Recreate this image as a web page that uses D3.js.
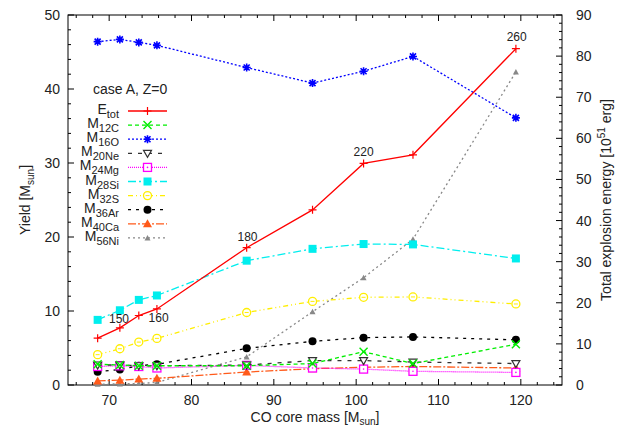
<!DOCTYPE html>
<html>
<head>
<meta charset="utf-8">
<script src="https://cdn.jsdelivr.net/npm/d3@7"></script>
<style>
  body { margin: 0; background: #fff; }
  svg text { font-family: "Liberation Sans", Arial, sans-serif; fill: #222; }
</style>
</head>
<body>
<div id="chart"></div>
<script>
// CO core mass for each model
var coMass = [68.6, 71.3, 73.6, 75.8, 86.7, 94.7, 100.9, 106.9, 119.4];

// total explosion energy [1e51 erg] (right axis)
var eTot = [11.4, 13.9, 16.9, 18.5, 33.4, 42.6, 53.9, 56.0, 81.8];

// yields [Msun] (left axis)
var m12C  = [2.8, 2.7, 2.6, 2.6, 2.6, 2.9, 4.5, 2.9, 5.5];
var m16O  = [46.4, 46.7, 46.3, 45.9, 42.9, 40.8, 42.4, 44.4, 36.1];
var m20Ne = [2.7, 2.7, 2.6, 2.6, 2.7, 3.3, 3.3, 3.1, 2.9];
var m24Mg = [2.5, 2.6, 2.5, 2.3, 2.65, 2.3, 2.15, 1.85, 1.7];
var m28Si = [8.8, 10.1, 11.5, 12.1, 16.8, 18.4, 19.05, 19.0, 17.1];
var m32S  = [4.1, 4.9, 5.8, 6.3, 9.8, 11.3, 11.85, 11.9, 10.95];
var m36Ar = [1.8, 2.1, 2.6, 2.8, 4.95, 5.9, 6.4, 6.5, 6.1];
var m40Ca = [0.55, 0.65, 0.8, 0.9, 1.75, 2.2, 2.4, 2.5, 2.3];
var m56Ni = [0.1, 0.15, 0.2, 0.35, 3.8, 9.9, 14.5, 19.7, 42.3];

// progenitor mass labels next to E_tot curve (x, y on right axis)
var massLabels = ["150", "160", "180", "220", "260"];
var massLabelX = [71.2, 76.0, 86.8, 100.9, 119.5];
var massLabelY = [16.0, 16.2, 35.9, 56.6, 84.7];

var xTicks = [70, 80, 90, 100, 110, 120];
var yTicks = [0, 10, 20, 30, 40, 50];
var y2Ticks = [0, 10, 20, 30, 40, 50, 60, 70, 80, 90];

var width = 621, height = 427;
var margin = { left: 68, right: 59, top: 15, bottom: 42 };

var svg = d3.select("#chart").append("svg")
  .attr("width", width)
  .attr("height", height);

var x = d3.scaleLinear().domain([65, 125]).range([margin.left, width - margin.right]);
var y = d3.scaleLinear().domain([0, 50]).range([height - margin.bottom, margin.top]);
var y2 = d3.scaleLinear().domain([0, 90]).range([height - margin.bottom, margin.top]);

var x0 = margin.left, x1 = width - margin.right;
var yb = height - margin.bottom, yt = margin.top;

// ticks (gnuplot style, pointing inward)
var tk = svg.append("g").attr("stroke", "#000").attr("stroke-width", 1);
d3.range(66, 125, 2).forEach(function (v) {
  var len = v % 10 == 0 ? 6 : 3;
  tk.append("line").attr("x1", x(v)).attr("x2", x(v)).attr("y1", yb).attr("y2", yb - len);
  tk.append("line").attr("x1", x(v)).attr("x2", x(v)).attr("y1", yt).attr("y2", yt + len);
});
d3.range(0, 51, 2).forEach(function (v) {
  var len = v % 10 == 0 ? 6 : 3;
  tk.append("line").attr("x1", x0).attr("x2", x0 + len).attr("y1", y(v)).attr("y2", y(v));
});
d3.range(0, 91, 2).forEach(function (v) {
  var len = v % 10 == 0 ? 6 : 3;
  tk.append("line").attr("x1", x1).attr("x2", x1 - len).attr("y1", y2(v)).attr("y2", y2(v));
});

svg.append("rect")
  .attr("x", x0).attr("y", yt)
  .attr("width", x1 - x0).attr("height", yb - yt)
  .attr("fill", "none").attr("stroke", "#000").attr("stroke-width", 1);

// tick labels
svg.append("g").selectAll("text").data(xTicks).enter().append("text")
  .attr("x", function (d) { return x(d); })
  .attr("y", yb + 20)
  .attr("text-anchor", "middle")
  .attr("font-size", 14)
  .text(function (d) { return d; });

svg.append("g").selectAll("text").data(yTicks).enter().append("text")
  .attr("x", x0 - 8)
  .attr("y", function (d) { return y(d) + 5; })
  .attr("text-anchor", "end")
  .attr("font-size", 14)
  .text(function (d) { return d; });

svg.append("g").selectAll("text").data(y2Ticks).enter().append("text")
  .attr("x", x1 + 14)
  .attr("y", function (d) { return y2(d) + 5; })
  .attr("text-anchor", "start")
  .attr("font-size", 14)
  .text(function (d) { return d; });

// axis titles
var xt = svg.append("text")
  .attr("x", (x0 + x1) / 2).attr("y", 422)
  .attr("text-anchor", "middle").attr("font-size", 14);
xt.append("tspan").text("CO core mass [M");
xt.append("tspan").attr("font-size", 10).attr("dy", 3).text("sun");
xt.append("tspan").attr("dy", -3).text("]");

var yl = svg.append("text")
  .attr("transform", "translate(30," + ((yt + yb) / 2) + ") rotate(-90)")
  .attr("text-anchor", "middle").attr("font-size", 14);
yl.append("tspan").text("Yield [M");
yl.append("tspan").attr("font-size", 10).attr("dy", 4).text("sun");
yl.append("tspan").attr("dy", -4).text("]");

var yr = svg.append("text")
  .attr("transform", "translate(611," + ((yt + yb) / 2) + ") rotate(-90)")
  .attr("text-anchor", "middle").attr("font-size", 14);
yr.append("tspan").text("Total explosion energy [10");
yr.append("tspan").attr("font-size", 10).attr("dy", -6).text("51");
yr.append("tspan").attr("dy", 6).text(" erg]");

// marker shapes
function marker(g, type, color, cx, cy) {
  var s = 4;
  if (type == "plus") {
    g.append("path").attr("d", "M" + (cx - s) + "," + cy + "H" + (cx + s) + "M" + cx + "," + (cy - s) + "V" + (cy + s))
      .attr("stroke", color).attr("stroke-width", 1.2);
  } else if (type == "cross") {
    g.append("path").attr("d", "M" + (cx - s) + "," + (cy - s) + "L" + (cx + s) + "," + (cy + s) + "M" + (cx - s) + "," + (cy + s) + "L" + (cx + s) + "," + (cy - s))
      .attr("stroke", color).attr("stroke-width", 1.4);
  } else if (type == "star") {
    g.append("path").attr("d", "M" + (cx - s) + "," + cy + "H" + (cx + s) + "M" + cx + "," + (cy - s) + "V" + (cy + s) +
      "M" + (cx - 3) + "," + (cy - 3) + "L" + (cx + 3) + "," + (cy + 3) + "M" + (cx - 3) + "," + (cy + 3) + "L" + (cx + 3) + "," + (cy - 3))
      .attr("stroke", color).attr("stroke-width", 1.6);
  } else if (type == "tridown") {
    g.append("path").attr("d", "M" + (cx - 4) + "," + (cy - 3) + "L" + (cx + 4) + "," + (cy - 3) + "L" + cx + "," + (cy + 4) + "Z")
      .attr("stroke", color).attr("stroke-width", 1.2).attr("fill", "#fff");
  } else if (type == "sqopen") {
    g.append("rect").attr("x", cx - 4).attr("y", cy - 4).attr("width", 8).attr("height", 8)
      .attr("stroke", color).attr("stroke-width", 1.3).attr("fill", "#fff");
    g.append("circle").attr("cx", cx).attr("cy", cy).attr("r", 0.8).attr("fill", color);
  } else if (type == "sqfill") {
    g.append("rect").attr("x", cx - 4).attr("y", cy - 4).attr("width", 8).attr("height", 8)
      .attr("fill", color);
  } else if (type == "circopen") {
    g.append("circle").attr("cx", cx).attr("cy", cy).attr("r", 4)
      .attr("stroke", color).attr("stroke-width", 1.3).attr("fill", "#fff");
    g.append("line").attr("x1", cx - 2).attr("x2", cx + 2).attr("y1", cy).attr("y2", cy)
      .attr("stroke", color).attr("stroke-width", 1);
  } else if (type == "circfill") {
    g.append("circle").attr("cx", cx).attr("cy", cy).attr("r", 4).attr("fill", color);
  } else if (type == "triup") {
    g.append("path").attr("d", "M" + (cx - 4.5) + "," + (cy + 3.5) + "L" + (cx + 4.5) + "," + (cy + 3.5) + "L" + cx + "," + (cy - 4.5) + "Z")
      .attr("fill", color);
  } else if (type == "trismall") {
    g.append("path").attr("d", "M" + (cx - 3) + "," + (cy + 2.5) + "L" + (cx + 3) + "," + (cy + 2.5) + "L" + cx + "," + (cy - 3) + "Z")
      .attr("fill", color);
  }
}

var series = [
  { main: "E", sub: "tot", values: eTot, axis: "y2", color: "#ff0000", dash: null, mk: "plus" },
  { main: "M", sub: "12C", values: m12C, axis: "y", color: "#00ee00", dash: "4,3", mk: "cross" },
  { main: "M", sub: "16O", values: m16O, axis: "y", color: "#0000ff", dash: "2,2", mk: "star" },
  { main: "M", sub: "20Ne", values: m20Ne, axis: "y", color: "#333333", dash: "4,6", mk: "tridown" },
  { main: "M", sub: "24Mg", values: m24Mg, axis: "y", color: "#ff00ff", dash: "1,1", mk: "sqopen" },
  { main: "M", sub: "28Si", values: m28Si, axis: "y", color: "#00eeee", dash: "8,3,2,3", mk: "sqfill" },
  { main: "M", sub: "32S", values: m32S, axis: "y", color: "#ffee00", dash: "5,3,1,3,1,3", mk: "circopen" },
  { main: "M", sub: "36Ar", values: m36Ar, axis: "y", color: "#000000", dash: "3,5", mk: "circfill" },
  { main: "M", sub: "40Ca", values: m40Ca, axis: "y", color: "#ff5a1a", dash: "8,2,2,2", mk: "triup" },
  { main: "M", sub: "56Ni", values: m56Ni, axis: "y", color: "#888888", dash: "2,3", mk: "trismall" }
];

var plot = svg.append("g");
// draw in reverse so E_tot sits on top
series.slice().reverse().forEach(function (s) {
  var sc = s.axis == "y2" ? y2 : y;
  var line = d3.line()
    .x(function (d, i) { return x(coMass[i]); })
    .y(function (d) { return sc(d); });
  plot.append("path")
    .datum(s.values)
    .attr("d", line)
    .attr("fill", "none")
    .attr("stroke", s.color)
    .attr("stroke-width", 1.3)
    .attr("stroke-dasharray", s.dash);
  var g = plot.append("g");
  s.values.forEach(function (v, i) {
    marker(g, s.mk, s.color, x(coMass[i]), sc(v));
  });
});

// mass labels
svg.append("g").selectAll("text").data(massLabels).enter().append("text")
  .attr("x", function (d, i) { return x(massLabelX[i]); })
  .attr("y", function (d, i) { return y2(massLabelY[i]) + 4; })
  .attr("text-anchor", "middle")
  .attr("font-size", 12)
  .text(function (d) { return d; });

// legend
svg.append("text")
  .attr("x", 93).attr("y", 94)
  .attr("font-size", 14)
  .text("case A, Z=0");

var lg = svg.append("g");
series.forEach(function (s, i) {
  var ly = 111 + i * 14.1;
  var t = lg.append("text").attr("x", 119).attr("y", ly + 3).attr("text-anchor", "end").attr("font-size", 14);
  t.append("tspan").text(s.main);
  t.append("tspan").attr("font-size", 11).attr("dy", 4).text(s.sub);
  lg.append("line")
    .attr("x1", 128).attr("x2", 167).attr("y1", ly).attr("y2", ly)
    .attr("stroke", s.color).attr("stroke-width", 1.3)
    .attr("stroke-dasharray", s.dash);
  marker(lg, s.mk, s.color, 147.5, ly);
});
</script>
</body>
</html>
